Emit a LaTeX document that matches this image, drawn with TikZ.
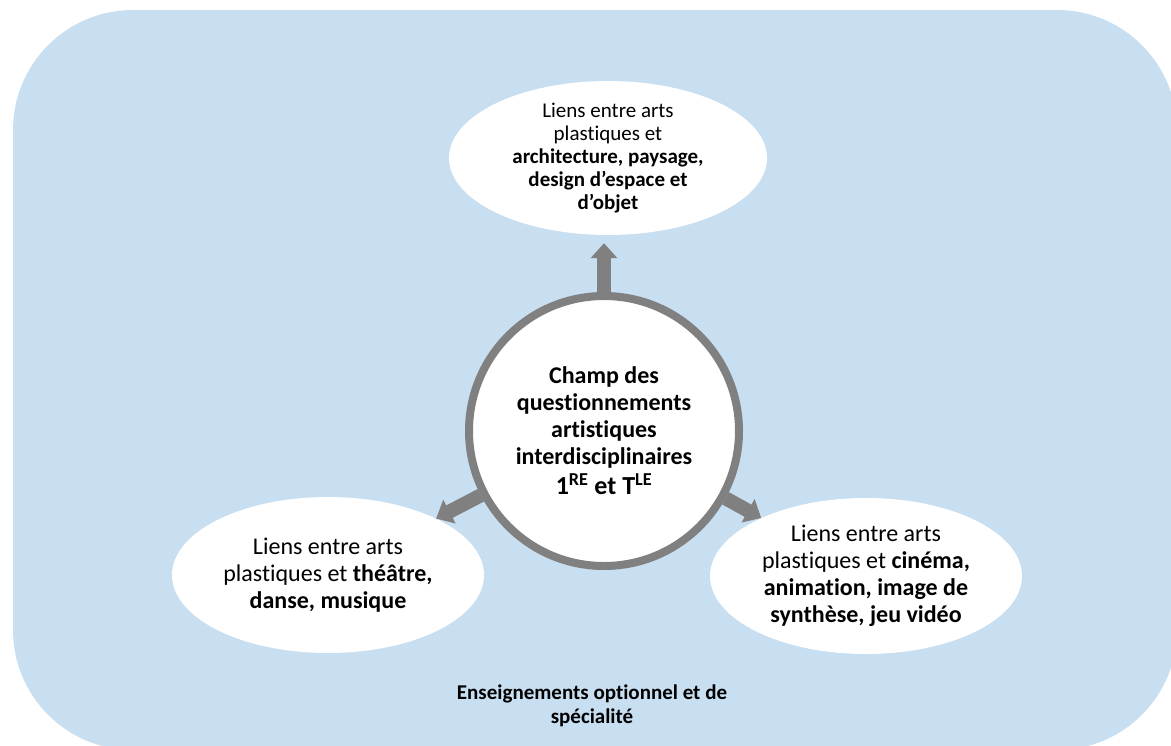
\documentclass[tikz,border=0pt]{standalone}
\usepackage{fontspec}
\setmainfont{Carlito}[Ligatures={NoCommon}]
\usetikzlibrary{shapes.geometric,arrows.meta}
\definecolor{panelblue}{RGB}{200,222,241}
\definecolor{spokegray}{RGB}{128,128,128}
\begin{document}
\begin{tikzpicture}
[x=1pt, y=-1pt,
 bubble/.style ={ellipse, fill=white, inner sep=0pt, minimum width=312pt, minimum height=156pt},
 spoke/.style ={draw=spokegray, line width=14pt, -{Triangle[width=26pt,length=15pt]}},
 bubbletext/.style ={align=center, font=\fontsize{24}{27}\selectfont}]
\useasboundingbox (0,0) rectangle (1171,745);
\clip (0,0) rectangle (1171,745);
\fill[panelblue, rounded corners=120pt] (13,10) rectangle (1177,750);
\node[bubble, minimum width=318pt, minimum height=154pt] (top) at (608,158) {};
\node[bubble] (left) at (328,575) {};
\node[bubble] (right) at (866,576) {};
\node[circle, draw=spokegray, line width=8pt, fill=white, minimum size=270pt, align=center,
      font=\bfseries\fontsize{24}{27}\selectfont] (hub) at (604,431)
  {Champ des\\questionnements\\artistiques\\interdisciplinaires\\[3pt]
   {\fontsize{26}{27}\selectfont 1\textsuperscript{RE} et T\textsuperscript{LE}}};
\draw[spoke, shorten >=8pt] (hub) -- (hub |- top.south);
\draw[spoke] (hub) -- (left);
\draw[spoke] (hub) -- (right);
\node[bubbletext, font=\fontsize{21}{23}\selectfont] (toptext) at (top)
  {Liens entre arts\\plastiques et\\\textbf{architecture, paysage,}\\\textbf{design d’espace et}\\\textbf{d’objet}};
\node[bubbletext] (lefttext) at (left)
  {Liens entre arts\\plastiques et \textbf{théâtre,}\\\textbf{danse, musique}};
\node[bubbletext] (righttext) at (right)
  {Liens entre arts\\plastiques et \textbf{cinéma,}\\\textbf{animation, image de}\\\textbf{synthèse, jeu vidéo}};
\node[align=center, font=\bfseries\fontsize{21}{24}\selectfont] (footer) at (592,706)
  {Enseignements optionnel et de\\spécialité};
\end{tikzpicture}
\end{document}
